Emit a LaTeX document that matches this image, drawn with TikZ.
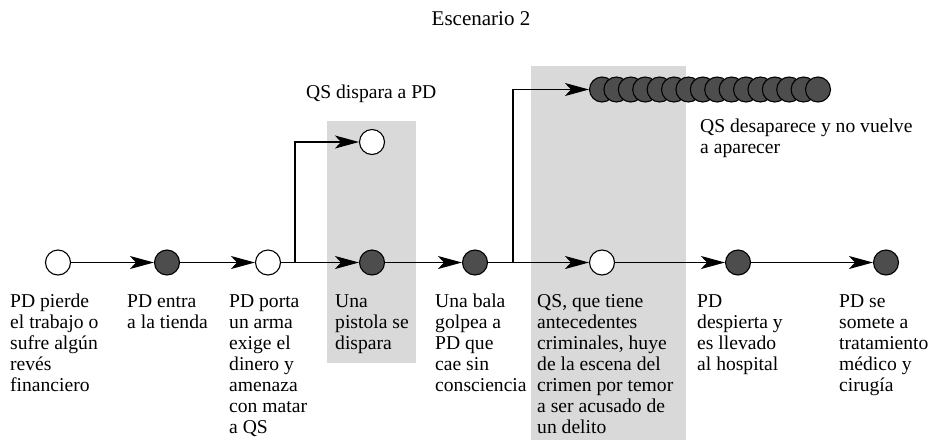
\documentclass[tikz,border=0pt]{standalone}
\usepackage{fontspec}
\setmainfont{Liberation Serif}
\usetikzlibrary{arrows.meta}

\definecolor{evgray}{HTML}{4D4D4D}
\definecolor{bandgray}{HTML}{D9D9D9}

\tikzset{
    evopen/.style={circle,draw,line width=1.1pt,fill=white,
        minimum size=25pt,inner sep=0pt},
    evshut/.style={evopen,fill=evgray},
    lbl/.style={anchor=north west,align=left,inner sep=0pt,
        font=\fontsize{19.6}{21}\selectfont},
    flow/.style={-{Stealth[length=24pt,width=13pt,inset=6pt]},line width=1.2pt},
}

\begin{document}
\begin{tikzpicture}[x=1pt,y=-1pt]

\useasboundingbox (0,0) rectangle (931,440);

% Shaded bands behind the two branching events.
\fill[bandgray] (327,121) rectangle (416,363);
\fill[bandgray] (531,66) rectangle (686,440);

% Title.
\node[lbl,anchor=base,font=\fontsize{21}{23}\selectfont] (title) at (481,25) {Escenario 2};

% Loop for each event on the main line.
\foreach \n/\x/\s in {1/58/evopen,2/167/evshut,3/268/evopen,4/372/evshut,
    5/475/evshut,6/602/evopen,7/738/evshut,8/886/evshut} {
    \node[\s] (ev\n) at (\x,262.5) {};
}

% Label each event below the line.
\foreach \n/\x/\t in {
    1/10/{PD pierde\\el trabajo o\\sufre algún\\revés\\financiero},
    2/127/{PD entra\\a la tienda},
    3/229/{PD porta\\un arma\\exige el\\dinero y\\amenaza\\con matar\\a QS},
    4/335/{Una\\pistola se\\dispara},
    5/435/{Una bala\\golpea a\\PD que\\cae sin\\consciencia},
    6/537/{QS, que tiene\\antecedentes\\criminales, huye\\de la escena del\\crimen por temor\\a ser acusado de\\un delito},
    7/697/{PD\\despierta y\\es llevado\\al hospital},
    8/839/{PD se\\somete a\\tratamiento\\médico y\\cirugía}} {
    \node[lbl] (tx\n) at (\x,294) {\t};
}

% Main line arrows. End loop.
\foreach \a/\b in {1/2,2/3,3/4,4/5,5/6,6/7,7/8} {
    \draw[flow] (ev\a) -- (ev\b);
}

% First branch: QS shoots PD.
\coordinate (jone) at (295,262.5);
\node[evopen] (shot) at (372,142) {};
\draw[flow]
    % start on the main line, go up
    (jone) |- (shot);
\node[lbl,anchor=base west] (shottx) at (306,98) {QS dispara a PD};

% Second branch: QS vanishes (a row of overlapping events).
\foreach \k in {0,...,15} {
    \node[evshut] (gone\k) at ({602+14.4*\k},89.5) {};
}
\coordinate (jtwo) at (513,262.5);
\draw[flow]
    % start on the main line, go up
    (jtwo) |- (gone0);
\node[lbl] (gonetx) at (700,119) {QS desaparece y no vuelve\\a aparecer};

\end{tikzpicture}
\end{document}
